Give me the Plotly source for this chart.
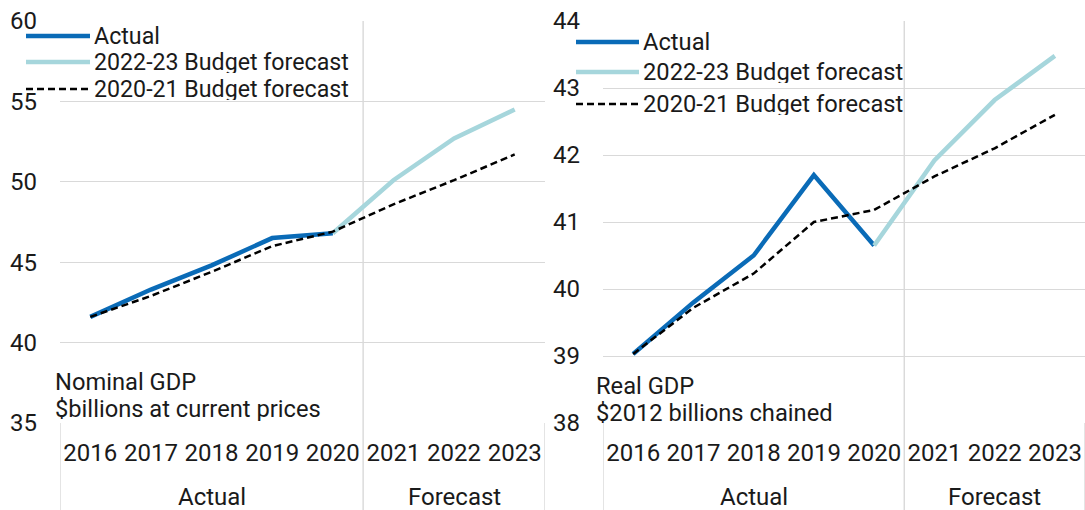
import plotly.graph_objects as go

years = ["2016", "2017", "2018", "2019", "2020", "2021", "2022", "2023"]
idx = list(range(len(years)))

# Nominal GDP ($billions at current prices)
nom_actual = [41.6, 43.3, 44.8, 46.5, 46.8, None, None, None]
nom_b2223 = [None, None, None, None, 46.8, 50.1, 52.7, 54.5]
nom_b2021 = [41.6, 42.9, 44.4, 46.0, 46.9, 48.6, 50.1, 51.7]

# Real GDP ($2012 billions chained)
real_actual = [39.03, 39.8, 40.5, 41.7, 40.65, None, None, None]
real_b2223 = [None, None, None, None, 40.65, 41.92, 42.82, 43.48]
real_b2021 = [39.03, 39.72, 40.23, 41.0, 41.18, 41.68, 42.1, 42.6]

series_names = ["Actual", "2022-23 Budget forecast", "2020-21 Budget forecast"]
group_labels = ["Actual", "Forecast"]
panel_titles = [["Nominal GDP", "$billions at current prices"],
                ["Real GDP", "$2012 billions chained"]]

C_ACT = "#0a6bb7"
C_NEW = "#a6d6dc"
C_OLD = "#000000"
GRID = "#d9d9d9"
TXT = "#1a1a1a"
FONT = "Roboto"
FS = 24     # tick / group labels
FS_T = 23.7 # legend / panel titles

W, H = 1085, 510
dom_y = [87 / H, 1 - 21 / H]
dom_x1 = [60 / W, 545 / W]
dom_x2 = [603 / W, 1.0]

fig = go.Figure()
styles = [dict(color=C_ACT, width=4.5),
          dict(color=C_NEW, width=4.5),
          dict(color=C_OLD, width=2.5, dash="7px,4px")]

for (xa, ya), data in [(("x", "y"), [nom_actual, nom_b2223, nom_b2021]),
                       (("x2", "y2"), [real_actual, real_b2223, real_b2021])]:
    for name, vals, st in zip(series_names, data, styles):
        fig.add_trace(go.Scatter(x=idx, y=vals, mode="lines", name=name,
                                 line=st, xaxis=xa, yaxis=ya,
                                 showlegend=False, connectgaps=False))

axis_common = dict(showline=False, zeroline=False, ticks="", automargin=False,
                   tickfont=dict(family=FONT, size=FS, color=TXT))
fig.update_layout(
    width=W, height=H,
    margin=dict(l=0, r=0, t=0, b=0, autoexpand=False),
    paper_bgcolor="white", plot_bgcolor="white",
    font=dict(family=FONT, size=FS, color=TXT),
    xaxis=dict(domain=dom_x1, range=[-0.5, 7.5], tickvals=idx, ticktext=years,
               showgrid=False, ticklabelstandoff=13, **axis_common),
    xaxis2=dict(domain=dom_x2, range=[-0.5, 7.5], tickvals=idx, ticktext=years,
                showgrid=False, ticklabelstandoff=13, **axis_common),
    yaxis=dict(domain=dom_y, range=[35, 60], tickvals=[35, 40, 45, 50, 55, 60],
               showgrid=True, gridcolor=GRID, gridwidth=1.4,
               ticklabelstandoff=22, anchor="x", **axis_common),
    yaxis2=dict(domain=dom_y, range=[38, 44], tickvals=[38, 39, 40, 41, 42, 43, 44],
                showgrid=True, gridcolor=GRID, gridwidth=1.4,
                ticklabelstandoff=22, anchor="x2", **axis_common),
    showlegend=False,
)

shapes = []
annotations = []
for xr, yr in [("x", "y"), ("x2", "y2")]:
    shapes.append(dict(type="line", xref=xr, yref="paper", x0=-0.5, x1=-0.5,
                       y0=0, y1=dom_y[0], line=dict(color=GRID, width=1.4)))
    shapes.append(dict(type="line", xref=xr, yref="paper", x0=7.5, x1=7.5,
                       y0=0, y1=dom_y[0], line=dict(color=GRID, width=1.4)))
    shapes.append(dict(type="line", xref=xr, yref="paper", x0=4.5, x1=4.5,
                       y0=0, y1=dom_y[1], line=dict(color=GRID, width=1.4), layer="below"))
    annotations.append(dict(xref=xr, yref="paper", x=2, y=13 / H, text=group_labels[0],
                            showarrow=False, yanchor="middle",
                            font=dict(family=FONT, size=FS, color=TXT)))
    annotations.append(dict(xref=xr, yref="paper", x=6, y=13 / H, text=group_labels[1],
                            showarrow=False, yanchor="middle",
                            font=dict(family=FONT, size=FS, color=TXT)))

# panel titles
for (px, py), lines in zip([(56, 381), (597, 385)], panel_titles):
    for i, t in enumerate(lines):
        annotations.append(dict(xref="paper", yref="paper", x=px / W,
                                y=1 - (py + i * 27) / H, text=t, showarrow=False,
                                xanchor="left", yanchor="middle", xshift=-2,
                                height=25, borderpad=0,
                                font=dict(family=FONT, size=FS_T, color=TXT)))

# manual legends
legend_specs = [(26, 90, 95, [36, 62, 89], 23.2), (576, 639, 644, [42, 72, 104], FS_T)]
for lx0, lx1, tx, rows, fsz in legend_specs:
    for name, st, ry in zip(series_names, styles, rows):
        shapes.append(dict(type="line", xref="paper", yref="paper",
                           x0=lx0 / W, x1=lx1 / W, y0=1 - ry / H, y1=1 - ry / H,
                           line=dict(color=st["color"], width=st["width"],
                                     dash=st.get("dash", "solid"))))
        annotations.append(dict(xref="paper", yref="paper", x=tx / W, y=1 - ry / H,
                                text=name, showarrow=False, xanchor="left",
                                yanchor="middle", xshift=-2, height=22, borderpad=0,
                                font=dict(family=FONT, size=fsz, color=TXT)))

fig.update_layout(shapes=shapes, annotations=annotations)
fig.write_html("out.html")
